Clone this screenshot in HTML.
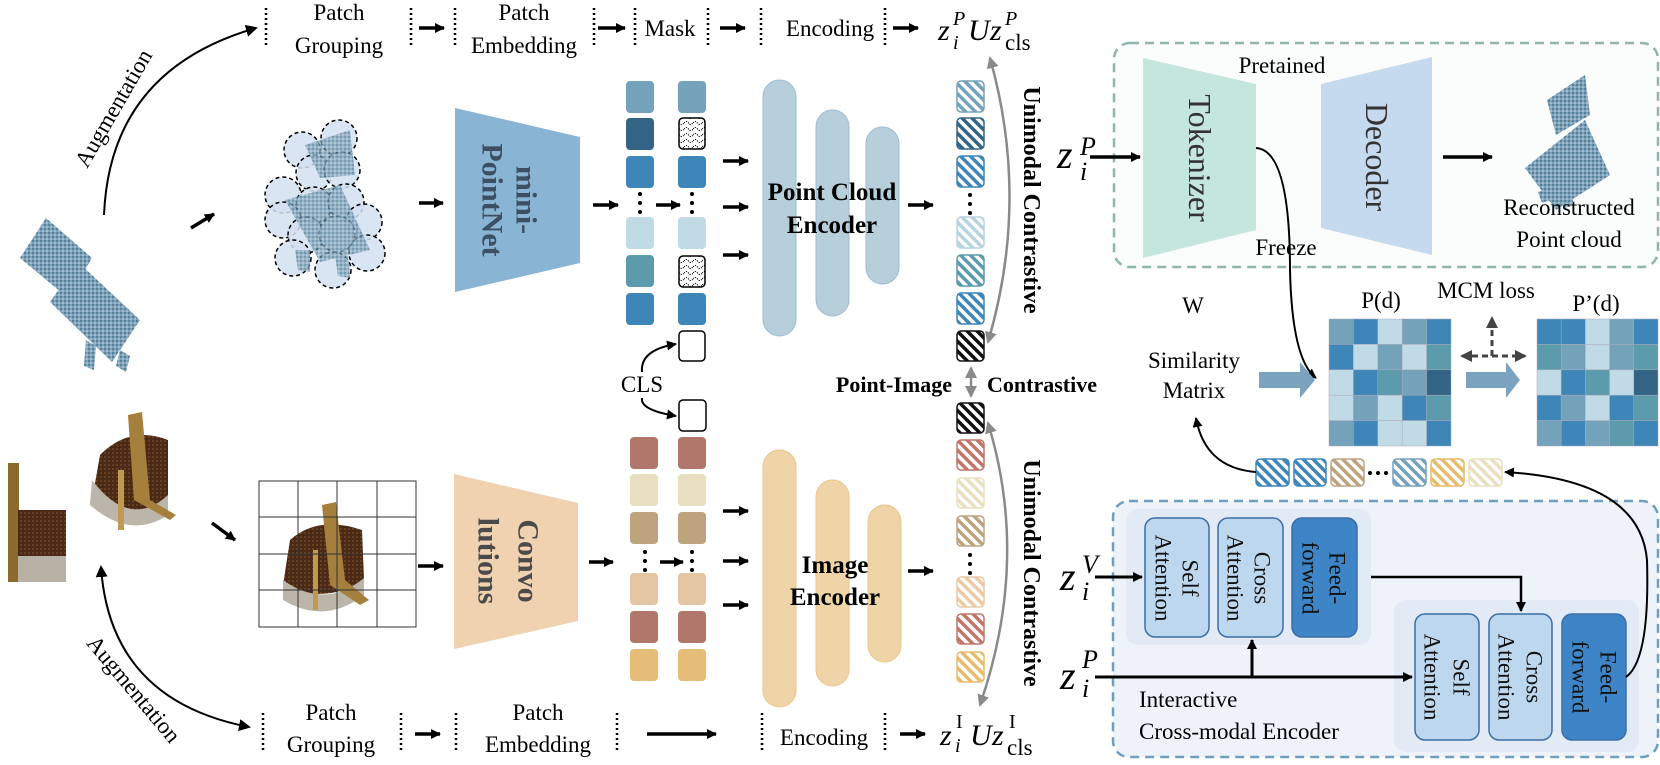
<!DOCTYPE html>
<html><head><meta charset="utf-8"><style>
html,body{margin:0;padding:0;background:#fff;}
svg{display:block;font-family:"Liberation Serif",serif;}
</style></head><body>
<svg width="1660" height="765" viewBox="0 0 1660 765" xmlns="http://www.w3.org/2000/svg">
<defs>
<marker id="ah" markerUnits="userSpaceOnUse" markerWidth="12" markerHeight="12" refX="10" refY="6" orient="auto-start-reverse"><path d="M0,0 L12,6 L0,12 z" fill="#000"/></marker>
<marker id="ahs" markerUnits="userSpaceOnUse" markerWidth="10" markerHeight="10" refX="9" refY="5" orient="auto"><path d="M0,0 L10,5 L0,10 z" fill="#000"/></marker>
<marker id="ag" markerUnits="userSpaceOnUse" markerWidth="12" markerHeight="12" refX="10" refY="6" orient="auto"><path d="M0,0 L12,6 L0,12 z" fill="#8a8a8a"/></marker>
<marker id="ags" markerUnits="userSpaceOnUse" markerWidth="12" markerHeight="12" refX="2" refY="6" orient="auto"><path d="M12,0 L0,6 L12,12 z" fill="#8a8a8a"/></marker>
<marker id="ad" markerUnits="userSpaceOnUse" markerWidth="12" markerHeight="12" refX="10" refY="6" orient="auto-start-reverse"><path d="M0,0 L12,6 L0,12 z" fill="#444"/></marker>
<pattern id="pc" width="4" height="4" patternUnits="userSpaceOnUse"><rect width="4" height="4" fill="#7ea2b9"/><circle cx="1" cy="1" r="1" fill="#4a7690"/><circle cx="3" cy="3" r="0.8" fill="#c8dae6"/></pattern>
<pattern id="br" width="4" height="4" patternUnits="userSpaceOnUse"><rect width="4" height="4" fill="#4a2a16"/><circle cx="1" cy="1" r="0.8" fill="#8a5a30"/></pattern>
<pattern id="wv" width="9" height="6" patternUnits="userSpaceOnUse"><path d="M0,3 Q2.25,0 4.5,3 T9,3" fill="none" stroke="#000" stroke-width="1" stroke-dasharray="1.2 1.2"/></pattern>
<pattern id="h1" width="7" height="7" patternUnits="userSpaceOnUse" patternTransform="rotate(-45)"><rect width="7" height="7" fill="#fff"/><rect width="3.5" height="7" fill="#74a2bb"/></pattern>
<pattern id="h2" width="7" height="7" patternUnits="userSpaceOnUse" patternTransform="rotate(-45)"><rect width="7" height="7" fill="#fff"/><rect width="3.5" height="7" fill="#336486"/></pattern>
<pattern id="h3" width="7" height="7" patternUnits="userSpaceOnUse" patternTransform="rotate(-45)"><rect width="7" height="7" fill="#fff"/><rect width="3.5" height="7" fill="#3f86b8"/></pattern>
<pattern id="h4" width="7" height="7" patternUnits="userSpaceOnUse" patternTransform="rotate(-45)"><rect width="7" height="7" fill="#fff"/><rect width="3.5" height="7" fill="#b6d3e0"/></pattern>
<pattern id="h5" width="7" height="7" patternUnits="userSpaceOnUse" patternTransform="rotate(-45)"><rect width="7" height="7" fill="#fff"/><rect width="3.5" height="7" fill="#5b9bab"/></pattern>
<pattern id="hk" width="7" height="7" patternUnits="userSpaceOnUse" patternTransform="rotate(-45)"><rect width="7" height="7" fill="#fff"/><rect width="3.5" height="7" fill="#111"/></pattern>
<pattern id="hr" width="7" height="7" patternUnits="userSpaceOnUse" patternTransform="rotate(-45)"><rect width="7" height="7" fill="#fff"/><rect width="3.5" height="7" fill="#c0776a"/></pattern>
<pattern id="hc" width="7" height="7" patternUnits="userSpaceOnUse" patternTransform="rotate(-45)"><rect width="7" height="7" fill="#fff"/><rect width="3.5" height="7" fill="#eadfc0"/></pattern>
<pattern id="ht" width="7" height="7" patternUnits="userSpaceOnUse" patternTransform="rotate(-45)"><rect width="7" height="7" fill="#fff"/><rect width="3.5" height="7" fill="#bda37e"/></pattern>
<pattern id="hp" width="7" height="7" patternUnits="userSpaceOnUse" patternTransform="rotate(-45)"><rect width="7" height="7" fill="#fff"/><rect width="3.5" height="7" fill="#ecc9a3"/></pattern>
<pattern id="hg" width="7" height="7" patternUnits="userSpaceOnUse" patternTransform="rotate(-45)"><rect width="7" height="7" fill="#fff"/><rect width="3.5" height="7" fill="#e9bb6c"/></pattern>
</defs>

<!-- ===== TOP ROW LABELS ===== -->
<g font-size="23" text-anchor="middle" fill="#000">
<text x="339" y="20">Patch</text><text x="339" y="53">Grouping</text>
<text x="524" y="20">Patch</text><text x="524" y="53">Embedding</text>
<text x="670" y="36">Mask</text>
<text x="830" y="36">Encoding</text>
</g>
<g stroke="#000" stroke-width="2.5" stroke-dasharray="2 3">
<line x1="266" y1="8" x2="266" y2="48"/><line x1="411" y1="8" x2="411" y2="48"/>
<line x1="455" y1="8" x2="455" y2="48"/><line x1="594" y1="8" x2="594" y2="48"/>
<line x1="635" y1="8" x2="635" y2="48"/><line x1="708" y1="8" x2="708" y2="48"/>
<line x1="761" y1="8" x2="761" y2="48"/><line x1="885" y1="8" x2="885" y2="48"/>
</g>
<g stroke="#000" stroke-width="3.5" marker-end="url(#ahs)">
<line x1="419" y1="28" x2="444" y2="28"/><line x1="598" y1="28" x2="625" y2="28"/>
<line x1="720" y1="28" x2="745" y2="28"/><line x1="893" y1="28" x2="918" y2="28"/>
</g>
<g font-style="italic" fill="#000">
<text x="938" y="40" font-size="30">z</text><text x="953" y="25" font-size="20">P</text><text x="953" y="49" font-size="20">i</text>
<text x="968" y="40" font-size="30">U</text>
<text x="990" y="40" font-size="30">z</text><text x="1005" y="25" font-size="20">P</text>
</g>
<text x="1005" y="50" font-size="23">cls</text>

<!-- Augmentation top -->
<path d="M104,215 Q110,70 256,28" fill="none" stroke="#000" stroke-width="2" marker-end="url(#ah)"/>
<text x="120" y="112" font-size="23" text-anchor="middle" transform="rotate(-60 120 112)">Augmentation</text>

<!-- left point cloud chair -->
<g fill="url(#pc)">
<polygon points="20,258 46,218 92,258 68,298"/>
<polygon points="50,302 78,262 140,320 112,362"/>
<polygon points="64,290 80,298 74,312 58,302"/>
<polygon points="86,340 96,346 94,370 84,366"/>
<polygon points="120,350 130,356 126,372 116,366"/>
</g>
<line x1="191" y1="228" x2="214" y2="214" stroke="#000" stroke-width="3.5" marker-end="url(#ahs)"/>

<!-- patch circles -->
<g fill="#d3e0f1" fill-opacity="0.85" stroke="#000" stroke-width="1.5" stroke-dasharray="4 3">
<circle cx="302" cy="150" r="18"/><circle cx="339" cy="138" r="18"/><circle cx="314" cy="173" r="18"/>
<circle cx="342" cy="170" r="18"/><circle cx="283" cy="195" r="18"/><circle cx="314" cy="205" r="18"/>
<circle cx="346" cy="202" r="18"/><circle cx="283" cy="220" r="18"/><circle cx="364" cy="222" r="18"/>
<circle cx="306" cy="235" r="18"/><circle cx="337" cy="234" r="18"/><circle cx="293" cy="258" r="18"/>
<circle cx="333" cy="270" r="18"/><circle cx="367" cy="253" r="18"/>
</g>
<g fill="url(#pc)" opacity="0.75">
<polygon points="305,145 350,130 355,175 320,178"/>
<polygon points="285,200 340,185 370,250 320,262"/>
<polygon points="295,250 310,250 310,272 298,270"/>
<polygon points="335,255 348,255 350,278 338,276"/>
</g>
<line x1="419" y1="203" x2="443" y2="203" stroke="#000" stroke-width="3.5" marker-end="url(#ahs)"/>

<!-- mini-PointNet -->
<polygon points="455,108 580,137 580,263 455,292" fill="#8ab4d3"/>
<g font-size="30" font-weight="bold" fill="#3d4f62" text-anchor="middle" dominant-baseline="central">
<text transform="translate(526 200) rotate(90)">mini-</text>
<text transform="translate(492 200) rotate(90)">PointNet</text>
</g>
<line x1="593" y1="205" x2="618" y2="205" stroke="#000" stroke-width="3.5" marker-end="url(#ahs)"/>

<!-- point tokens -->
<g>
<rect x="626" y="81" width="28" height="32" rx="4" fill="#74a2bb"/>
<rect x="626" y="118" width="28" height="32" rx="4" fill="#336486"/>
<rect x="626" y="156" width="28" height="32" rx="4" fill="#3f86b8"/>
<rect x="626" y="217" width="28" height="32" rx="4" fill="#c0dbe6"/>
<rect x="626" y="255" width="28" height="32" rx="4" fill="#5b9bab"/>
<rect x="626" y="293" width="28" height="32" rx="4" fill="#3f86b8"/>
<rect x="678" y="81" width="28" height="32" rx="4" fill="#74a2bb"/>
<rect x="679" y="118" width="26" height="31" rx="4" fill="url(#wv)" stroke="#000" stroke-width="1.5"/>
<rect x="678" y="156" width="28" height="32" rx="4" fill="#3f86b8"/>
<rect x="678" y="217" width="28" height="32" rx="4" fill="#c0dbe6"/>
<rect x="679" y="256" width="26" height="31" rx="4" fill="url(#wv)" stroke="#000" stroke-width="1.5"/>
<rect x="678" y="293" width="28" height="32" rx="4" fill="#3f86b8"/>
<rect x="679" y="331" width="26" height="30" rx="4" fill="#fff" stroke="#000" stroke-width="1.5"/>
</g>
<g fill="#000"><circle cx="640" cy="194" r="2"/><circle cx="640" cy="203" r="2"/><circle cx="640" cy="212" r="2"/>
<circle cx="692" cy="194" r="2"/><circle cx="692" cy="203" r="2"/><circle cx="692" cy="212" r="2"/></g>
<line x1="656" y1="205" x2="680" y2="205" stroke="#000" stroke-width="3.5" marker-end="url(#ahs)"/>
<g stroke="#000" stroke-width="3.5" marker-end="url(#ahs)">
<line x1="723" y1="161" x2="748" y2="161"/><line x1="723" y1="207" x2="748" y2="207"/><line x1="723" y1="255" x2="748" y2="255"/>
</g>
<!-- point encoder -->
<g fill="#b7cedb" stroke="#9dbcd0" stroke-width="1">
<rect x="763" y="80" width="33" height="256" rx="16.5"/>
<rect x="816" y="110" width="33" height="206" rx="16.5"/>
<rect x="866" y="127" width="33" height="157" rx="16.5"/>
</g>
<g font-size="25" font-weight="bold" text-anchor="middle" fill="#000">
<text x="832" y="200">Point Cloud</text><text x="832" y="233">Encoder</text>
</g>
<line x1="908" y1="205" x2="933" y2="205" stroke="#000" stroke-width="3.5" marker-end="url(#ahs)"/>
<!-- point output column -->
<g stroke-width="1.5">
<rect x="957" y="81" width="27" height="31" rx="4" fill="url(#h1)" stroke="#74a2bb"/>
<rect x="957" y="118" width="27" height="31" rx="4" fill="url(#h2)" stroke="#336486"/>
<rect x="957" y="156" width="27" height="31" rx="4" fill="url(#h3)" stroke="#3f86b8"/>
<rect x="957" y="217" width="27" height="31" rx="4" fill="url(#h4)" stroke="#b6d3e0"/>
<rect x="957" y="255" width="27" height="31" rx="4" fill="url(#h5)" stroke="#5b9bab"/>
<rect x="957" y="293" width="27" height="31" rx="4" fill="url(#h3)" stroke="#3f86b8"/>
<rect x="957" y="331" width="27" height="30" rx="4" fill="url(#hk)" stroke="#111"/>
</g>
<g fill="#000"><circle cx="970" cy="195" r="2"/><circle cx="970" cy="204" r="2"/><circle cx="970" cy="213" r="2"/></g>
<path d="M990,58 Q1030,200 988,342" fill="none" stroke="#8a8a8a" stroke-width="2.5" marker-start="url(#ags)" marker-end="url(#ag)"/>
<text transform="translate(1031 200) rotate(90)" font-size="24" font-weight="bold" text-anchor="middle" dominant-baseline="central">Unimodal Contrastive</text>

<!-- CLS -->
<text x="642" y="392" font-size="23" text-anchor="middle">CLS</text>
<path d="M642,372 Q640,350 676,344" fill="none" stroke="#000" stroke-width="2" marker-end="url(#ahs)"/>
<path d="M642,398 Q640,410 676,416" fill="none" stroke="#000" stroke-width="2" marker-end="url(#ahs)"/>
<rect x="679" y="400" width="27" height="31" rx="4" fill="#fff" stroke="#000" stroke-width="1.5"/>

<!-- Point-Image contrastive -->
<text x="952" y="392" font-size="22" font-weight="bold" text-anchor="end">Point-Image</text>
<text x="987" y="392" font-size="22" font-weight="bold">Contrastive</text>
<line x1="971" y1="368" x2="971" y2="396" stroke="#8a8a8a" stroke-width="2.5" marker-start="url(#ags)" marker-end="url(#ag)"/>

<!-- image tokens -->
<g>
<rect x="630" y="437" width="28" height="32" rx="4" fill="#b0776a"/>
<rect x="630" y="474" width="28" height="32" rx="4" fill="#e8dfc0"/>
<rect x="630" y="512" width="28" height="32" rx="4" fill="#bda37e"/>
<rect x="630" y="573" width="28" height="32" rx="4" fill="#e5c6a3"/>
<rect x="630" y="611" width="28" height="32" rx="4" fill="#b0776a"/>
<rect x="630" y="649" width="28" height="32" rx="4" fill="#e6bd78"/>
<rect x="678" y="437" width="28" height="32" rx="4" fill="#b0776a"/>
<rect x="678" y="474" width="28" height="32" rx="4" fill="#e8dfc0"/>
<rect x="678" y="512" width="28" height="32" rx="4" fill="#bda37e"/>
<rect x="678" y="573" width="28" height="32" rx="4" fill="#e5c6a3"/>
<rect x="678" y="611" width="28" height="32" rx="4" fill="#b0776a"/>
<rect x="678" y="649" width="28" height="32" rx="4" fill="#e6bd78"/>
</g>
<g fill="#000"><circle cx="645" cy="552" r="2"/><circle cx="645" cy="561" r="2"/><circle cx="645" cy="570" r="2"/>
<circle cx="692" cy="552" r="2"/><circle cx="692" cy="561" r="2"/><circle cx="692" cy="570" r="2"/></g>
<line x1="660" y1="562" x2="683" y2="562" stroke="#000" stroke-width="3.5" marker-end="url(#ahs)"/>
<line x1="589" y1="562" x2="613" y2="562" stroke="#000" stroke-width="3.5" marker-end="url(#ahs)"/>
<g stroke="#000" stroke-width="3.5" marker-end="url(#ahs)">
<line x1="723" y1="511" x2="748" y2="511"/><line x1="723" y1="561" x2="748" y2="561"/><line x1="723" y1="605" x2="748" y2="605"/>
</g>
<g fill="#efd4a8" stroke="#e8c690" stroke-width="1">
<rect x="763" y="450" width="33" height="257" rx="16.5"/>
<rect x="816" y="480" width="33" height="206" rx="16.5"/>
<rect x="868" y="505" width="33" height="157" rx="16.5"/>
</g>
<g font-size="25" font-weight="bold" text-anchor="middle" fill="#000">
<text x="835" y="573">Image</text><text x="835" y="605">Encoder</text>
</g>
<line x1="908" y1="571" x2="933" y2="571" stroke="#000" stroke-width="3.5" marker-end="url(#ahs)"/>
<g stroke-width="1.5">
<rect x="957" y="403" width="27" height="30" rx="4" fill="url(#hk)" stroke="#111"/>
<rect x="957" y="440" width="27" height="30" rx="4" fill="url(#hr)" stroke="#c0776a"/>
<rect x="957" y="478" width="27" height="30" rx="4" fill="url(#hc)" stroke="#eadfc0"/>
<rect x="957" y="516" width="27" height="30" rx="4" fill="url(#ht)" stroke="#bda37e"/>
<rect x="957" y="577" width="27" height="30" rx="4" fill="url(#hp)" stroke="#ecc9a3"/>
<rect x="957" y="614" width="27" height="30" rx="4" fill="url(#hr)" stroke="#c0776a"/>
<rect x="957" y="652" width="27" height="30" rx="4" fill="url(#hg)" stroke="#e9bb6c"/>
</g>
<g fill="#000"><circle cx="970" cy="555" r="2"/><circle cx="970" cy="564" r="2"/><circle cx="970" cy="573" r="2"/></g>
<path d="M988,423 Q1030,560 980,705" fill="none" stroke="#8a8a8a" stroke-width="2.5" marker-start="url(#ags)" marker-end="url(#ag)"/>
<text transform="translate(1031 573) rotate(90)" font-size="24" font-weight="bold" text-anchor="middle" dominant-baseline="central">Unimodal Contrastive</text>

<!-- image side left -->
<g>
<rect x="8" y="463" width="11" height="119" fill="#8b6a2e"/>
<rect x="18" y="510" width="48" height="48" fill="url(#br)"/>
<rect x="18" y="556" width="48" height="26" fill="#b8b2a6"/>
<path d="M100,455 Q130,425 168,440 L168,500 Q130,525 92,500 Z" fill="url(#br)"/>
<path d="M92,480 Q130,530 168,495 L168,515 Q130,540 90,505 Z" fill="#bcb6aa"/>
<polygon points="128,415 142,412 150,500 176,515 170,520 134,500" fill="#a57f3c"/>
<rect x="118" y="470" width="6" height="60" fill="#c09a50"/>
</g>
<line x1="212" y1="523" x2="235" y2="540" stroke="#000" stroke-width="3.5" marker-end="url(#ahs)"/>
<!-- grid -->
<g>
<path d="M290,540 Q318,515 362,530 L364,580 Q325,605 283,585 Z" fill="url(#br)"/>
<path d="M283,580 Q325,610 364,578 L364,595 Q325,625 283,600 Z" fill="#bcb6aa"/>
<polygon points="322,505 336,502 345,580 369,600 360,605 330,585" fill="#a57f3c"/>
<rect x="313" y="550" width="5" height="60" fill="#c09a50"/>
</g>
<g stroke="#333" stroke-width="1" fill="none">
<rect x="259" y="481" width="157" height="146"/>
<line x1="298" y1="481" x2="298" y2="627"/><line x1="337" y1="481" x2="337" y2="627"/><line x1="377" y1="481" x2="377" y2="627"/>
<line x1="259" y1="517" x2="416" y2="517"/><line x1="259" y1="554" x2="416" y2="554"/><line x1="259" y1="590" x2="416" y2="590"/>
</g>
<line x1="418" y1="566" x2="443" y2="566" stroke="#000" stroke-width="3.5" marker-end="url(#ahs)"/>
<polygon points="454,474 578,503 578,621 454,649" fill="#f0d2b0"/>
<g font-size="30" font-weight="bold" fill="#4a4a4a" text-anchor="middle" dominant-baseline="central">
<text transform="translate(528 561) rotate(90)">Convo</text>
<text transform="translate(488 561) rotate(90)">lutions</text>
</g>

<!-- Augmentation bottom -->
<path d="M101,567 Q110,700 249,727" fill="none" stroke="#000" stroke-width="2" marker-start="url(#ah)" marker-end="url(#ah)"/>
<text x="128" y="694" font-size="23" text-anchor="middle" transform="rotate(50 128 694)">Augmentation</text>

<!-- bottom labels -->
<g font-size="23" text-anchor="middle" fill="#000">
<text x="331" y="720">Patch</text><text x="331" y="752">Grouping</text>
<text x="538" y="720">Patch</text><text x="538" y="752">Embedding</text>
<text x="824" y="745">Encoding</text>
</g>
<g stroke="#000" stroke-width="2.5" stroke-dasharray="2 3">
<line x1="263" y1="713" x2="263" y2="753"/><line x1="401" y1="713" x2="401" y2="753"/>
<line x1="456" y1="713" x2="456" y2="753"/><line x1="617" y1="713" x2="617" y2="753"/>
<line x1="762" y1="713" x2="762" y2="753"/><line x1="885" y1="713" x2="885" y2="753"/>
</g>
<g stroke="#000" stroke-width="3.5" marker-end="url(#ahs)">
<line x1="415" y1="734" x2="440" y2="734"/><line x1="647" y1="734" x2="716" y2="734"/>
<line x1="900" y1="734" x2="925" y2="734"/>
</g>
<g font-style="italic" fill="#000">
<text x="940" y="745" font-size="30">z</text><text x="955" y="752" font-size="20">i</text>
<text x="970" y="745" font-size="30">U</text>
<text x="992" y="745" font-size="30">z</text>
</g>
<text x="956" y="728" font-size="20">I</text><text x="1009" y="728" font-size="20">I</text>
<text x="1007" y="755" font-size="23">cls</text>

<!-- ===== RIGHT TOP: pretrained box ===== -->
<rect x="1114" y="43" width="544" height="224" rx="16" fill="#fbfcfc" stroke="#8fb5ad" stroke-width="2.5" stroke-dasharray="9 6"/>
<polygon points="1143,58 1256,84 1256,230 1143,258" fill="#c5e6dc"/>
<polygon points="1321,84 1432,57 1432,255 1321,228" fill="#c5daee"/>
<text transform="translate(1200 158) rotate(90)" font-size="32" fill="#333" text-anchor="middle" dominant-baseline="central">Tokenizer</text>
<text transform="translate(1377 157) rotate(90)" font-size="32" fill="#333" text-anchor="middle" dominant-baseline="central">Decoder</text>
<text x="1282" y="73" font-size="23" text-anchor="middle">Pretained</text>
<text x="1286" y="255" font-size="23" text-anchor="middle">Freeze</text>
<text x="1057" y="168" font-size="40" font-style="italic">z</text>
<text x="1080" y="155" font-size="26" font-style="italic">P</text>
<text x="1080" y="180" font-size="26" font-style="italic">i</text>
<line x1="1090" y1="157" x2="1140" y2="157" stroke="#000" stroke-width="3.5" marker-end="url(#ahs)"/>
<line x1="1443" y1="157" x2="1492" y2="157" stroke="#000" stroke-width="3.5" marker-end="url(#ahs)"/>
<g fill="url(#pc)">
<polygon points="1547,100 1585,75 1590,115 1556,135"/>
<polygon points="1525,168 1585,120 1610,175 1556,210"/>
<polygon points="1538,192 1548,188 1550,200 1542,203"/>
<polygon points="1560,195 1570,190 1574,205 1565,208"/>
</g>
<text x="1569" y="215" font-size="23" text-anchor="middle">Reconstructed</text>
<text x="1569" y="247" font-size="23" text-anchor="middle">Point cloud</text>
<path d="M1256,148 Q1290,150 1290,270 Q1292,360 1316,378" fill="none" stroke="#000" stroke-width="2" marker-end="url(#ahs)"/>

<!-- matrix section -->
<text x="1193" y="313" font-size="23" text-anchor="middle">W</text>
<text x="1194" y="368" font-size="23" text-anchor="middle">Similarity</text>
<text x="1194" y="398" font-size="23" text-anchor="middle">Matrix</text>
<text x="1381" y="308" font-size="23" text-anchor="middle">P(d)</text>
<text x="1596" y="311" font-size="23" text-anchor="middle">P’(d)</text>
<text x="1486" y="298" font-size="23" text-anchor="middle">MCM loss</text>
<polygon points="1259,372 1300,372 1300,362 1315,380 1300,398 1300,388 1259,388" fill="#7ba3bf"/>
<polygon points="1466,372 1506,372 1506,362 1520,380 1506,398 1506,388 1466,388" fill="#7ba3bf"/>
<g stroke="#444" stroke-width="3" stroke-dasharray="6 4">
<line x1="1462" y1="356" x2="1525" y2="356" marker-end="url(#ad)" marker-start="url(#ad)"/>
<line x1="1492" y1="356" x2="1492" y2="318" marker-end="url(#ad)"/>
</g>
<!-- P(d) -->
<g stroke="#aab" stroke-width="0.5">
<rect x="1329" y="319" width="24.4" height="25.4" fill="#74a2bb"/><rect x="1353.4" y="319" width="24.4" height="25.4" fill="#3f86b8"/><rect x="1377.8" y="319" width="24.4" height="25.4" fill="#c0dbe6"/><rect x="1402.2" y="319" width="24.4" height="25.4" fill="#74a2bb"/><rect x="1426.6" y="319" width="24.4" height="25.4" fill="#3f86b8"/>
<rect x="1329" y="344.4" width="24.4" height="25.4" fill="#3f86b8"/><rect x="1353.4" y="344.4" width="24.4" height="25.4" fill="#c0dbe6"/><rect x="1377.8" y="344.4" width="24.4" height="25.4" fill="#74a2bb"/><rect x="1402.2" y="344.4" width="24.4" height="25.4" fill="#c0dbe6"/><rect x="1426.6" y="344.4" width="24.4" height="25.4" fill="#5b9bab"/>
<rect x="1329" y="369.8" width="24.4" height="25.4" fill="#c0dbe6"/><rect x="1353.4" y="369.8" width="24.4" height="25.4" fill="#3f86b8"/><rect x="1377.8" y="369.8" width="24.4" height="25.4" fill="#5b9bab"/><rect x="1402.2" y="369.8" width="24.4" height="25.4" fill="#74a2bb"/><rect x="1426.6" y="369.8" width="24.4" height="25.4" fill="#336486"/>
<rect x="1329" y="395.2" width="24.4" height="25.4" fill="#c0dbe6"/><rect x="1353.4" y="395.2" width="24.4" height="25.4" fill="#74a2bb"/><rect x="1377.8" y="395.2" width="24.4" height="25.4" fill="#c0dbe6"/><rect x="1402.2" y="395.2" width="24.4" height="25.4" fill="#3f86b8"/><rect x="1426.6" y="395.2" width="24.4" height="25.4" fill="#5b9bab"/>
<rect x="1329" y="420.6" width="24.4" height="25.4" fill="#74a2bb"/><rect x="1353.4" y="420.6" width="24.4" height="25.4" fill="#3f86b8"/><rect x="1377.8" y="420.6" width="24.4" height="25.4" fill="#c0dbe6"/><rect x="1402.2" y="420.6" width="24.4" height="25.4" fill="#c0dbe6"/><rect x="1426.6" y="420.6" width="24.4" height="25.4" fill="#3f86b8"/>
</g>
<!-- P'(d) -->
<g stroke="#aab" stroke-width="0.5">
<rect x="1537" y="319" width="24.2" height="25.4" fill="#3f86b8"/><rect x="1561.2" y="319" width="24.2" height="25.4" fill="#3f86b8"/><rect x="1585.4" y="319" width="24.2" height="25.4" fill="#c0dbe6"/><rect x="1609.6" y="319" width="24.2" height="25.4" fill="#74a2bb"/><rect x="1633.8" y="319" width="24.2" height="25.4" fill="#3f86b8"/>
<rect x="1537" y="344.4" width="24.2" height="25.4" fill="#5b9bab"/><rect x="1561.2" y="344.4" width="24.2" height="25.4" fill="#74a2bb"/><rect x="1585.4" y="344.4" width="24.2" height="25.4" fill="#c0dbe6"/><rect x="1609.6" y="344.4" width="24.2" height="25.4" fill="#74a2bb"/><rect x="1633.8" y="344.4" width="24.2" height="25.4" fill="#5b9bab"/>
<rect x="1537" y="369.8" width="24.2" height="25.4" fill="#c0dbe6"/><rect x="1561.2" y="369.8" width="24.2" height="25.4" fill="#3f86b8"/><rect x="1585.4" y="369.8" width="24.2" height="25.4" fill="#5b9bab"/><rect x="1609.6" y="369.8" width="24.2" height="25.4" fill="#c0dbe6"/><rect x="1633.8" y="369.8" width="24.2" height="25.4" fill="#336486"/>
<rect x="1537" y="395.2" width="24.2" height="25.4" fill="#3f86b8"/><rect x="1561.2" y="395.2" width="24.2" height="25.4" fill="#74a2bb"/><rect x="1585.4" y="395.2" width="24.2" height="25.4" fill="#c0dbe6"/><rect x="1609.6" y="395.2" width="24.2" height="25.4" fill="#3f86b8"/><rect x="1633.8" y="395.2" width="24.2" height="25.4" fill="#5b9bab"/>
<rect x="1537" y="420.6" width="24.2" height="25.4" fill="#74a2bb"/><rect x="1561.2" y="420.6" width="24.2" height="25.4" fill="#3f86b8"/><rect x="1585.4" y="420.6" width="24.2" height="25.4" fill="#74a2bb"/><rect x="1609.6" y="420.6" width="24.2" height="25.4" fill="#5b9bab"/><rect x="1633.8" y="420.6" width="24.2" height="25.4" fill="#3f86b8"/>
</g>

<!-- token row -->
<g stroke-width="1.5">
<rect x="1256" y="459" width="33" height="27" rx="4" fill="url(#h3)" stroke="#3f86b8"/>
<rect x="1294" y="459" width="32" height="27" rx="4" fill="url(#h3)" stroke="#3f86b8"/>
<rect x="1331" y="459" width="33" height="27" rx="4" fill="url(#ht)" stroke="#bda37e"/>
<rect x="1393" y="459" width="33" height="27" rx="4" fill="url(#h1)" stroke="#74a2bb"/>
<rect x="1431" y="459" width="33" height="27" rx="4" fill="url(#hg)" stroke="#e9bb6c"/>
<rect x="1469" y="459" width="33" height="27" rx="4" fill="url(#hc)" stroke="#eadfc0"/>
</g>
<g fill="#000"><circle cx="1370" cy="473" r="2"/><circle cx="1378" cy="473" r="2"/><circle cx="1386" cy="473" r="2"/></g>
<path d="M1256,472 Q1205,468 1196,418" fill="none" stroke="#000" stroke-width="2" marker-end="url(#ahs)"/>

<!-- cross-modal encoder -->
<rect x="1113" y="501" width="545" height="256" rx="16" fill="#eef3fa" stroke="#6f9fbd" stroke-width="2.5" stroke-dasharray="9 6"/>
<rect x="1126" y="509" width="245" height="136" rx="12" fill="#e1eaf5"/>
<rect x="1394" y="600" width="245" height="152" rx="12" fill="#e1eaf5"/>
<g stroke="#3d6ea5" stroke-width="1.5">
<rect x="1145" y="518" width="64" height="119" rx="10" fill="#bdd7ee"/>
<rect x="1218" y="518" width="65" height="119" rx="10" fill="#bdd7ee"/>
<rect x="1292" y="518" width="65" height="119" rx="10" fill="#3d85c6"/>
<rect x="1415" y="614" width="64" height="126" rx="10" fill="#bdd7ee"/>
<rect x="1489" y="614" width="63" height="126" rx="10" fill="#bdd7ee"/>
<rect x="1562" y="614" width="64" height="126" rx="10" fill="#3d85c6"/>
</g>
<g font-size="23" fill="#111" text-anchor="middle" dominant-baseline="central">
<text transform="translate(1190 578) rotate(90)">Self</text>
<text transform="translate(1163 578) rotate(90)">Attention</text>
<text transform="translate(1262 578) rotate(90)">Cross</text>
<text transform="translate(1235 578) rotate(90)">Attention</text>
<text transform="translate(1337 578) rotate(90)">Feed-</text>
<text transform="translate(1310 578) rotate(90)">forward</text>
<text transform="translate(1461 677) rotate(90)">Self</text>
<text transform="translate(1432 677) rotate(90)">Attention</text>
<text transform="translate(1534 677) rotate(90)">Cross</text>
<text transform="translate(1506 677) rotate(90)">Attention</text>
<text transform="translate(1608 677) rotate(90)">Feed-</text>
<text transform="translate(1580 677) rotate(90)">forward</text>
</g>
<g font-style="italic" fill="#000">
<text x="1060" y="590" font-size="40">z</text><text x="1082" y="573" font-size="26">V</text><text x="1082" y="600" font-size="26">i</text>
<text x="1060" y="689" font-size="40">z</text><text x="1082" y="668" font-size="26">P</text><text x="1082" y="697" font-size="26">i</text>
</g>
<line x1="1095" y1="577" x2="1142" y2="577" stroke="#000" stroke-width="3" marker-end="url(#ahs)"/>
<line x1="1095" y1="677" x2="1412" y2="677" stroke="#000" stroke-width="3" marker-end="url(#ahs)"/>
<line x1="1252" y1="677" x2="1252" y2="640" stroke="#000" stroke-width="3" marker-end="url(#ahs)"/>
<polyline points="1371,577 1521,577 1521,611" fill="none" stroke="#000" stroke-width="2.5" marker-end="url(#ahs)"/>
<path d="M1626,677 Q1650,660 1647,560 Q1640,480 1505,472" fill="none" stroke="#000" stroke-width="2" marker-end="url(#ahs)"/>
<text x="1139" y="707" font-size="23">Interactive</text>
<text x="1139" y="739" font-size="23">Cross-modal Encoder</text>
</svg>
</body></html>
